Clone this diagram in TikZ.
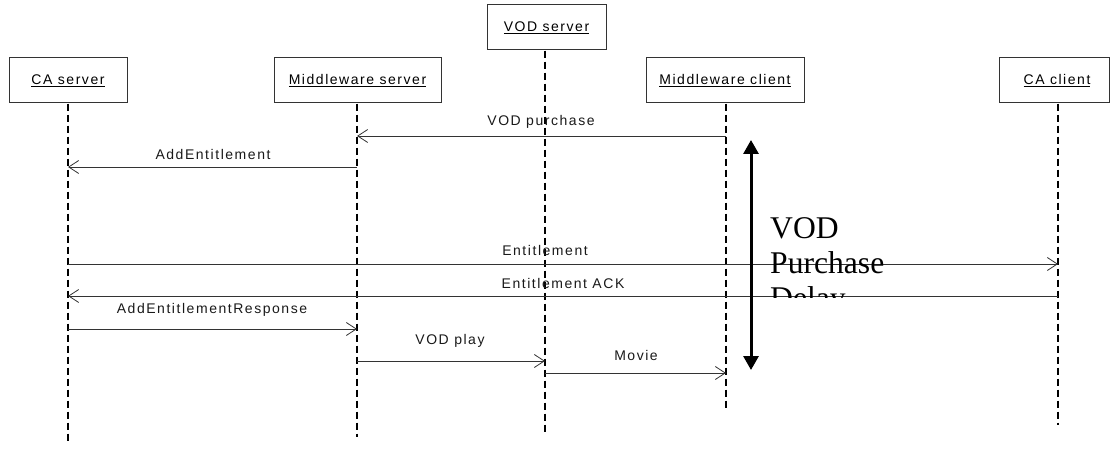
\documentclass[tikz,border=0pt]{standalone}
\usepackage{fontspec}
\usetikzlibrary{arrows.meta}
\newfontfamily\labfont{Liberation Sans}[LetterSpace=11]
\newfontfamily\bigserif{Liberation Serif}
\begin{document}
\begin{tikzpicture}[x=1pt,y=-1pt,
  objbox/.style={draw=black!80,line width=1pt,minimum height=45pt,inner sep=0pt,font=\labfont\fontsize{14}{16}\selectfont},
  lifeline/.style={line width=2pt,dash pattern=on 7pt off 4pt},
  msg/.style={draw=black!80,line width=0.8pt,-{Straight Barb[length=10pt,width=13pt,line width=0.8pt]}},
  lbl/.style={font=\labfont\fontsize{14}{16}\selectfont,inner sep=0pt,text=black!90},
  delay/.style={line width=3pt,{Triangle[length=14pt,width=15pt]}-{Triangle[length=14pt,width=15pt]}}]
\useasboundingbox (0,0) rectangle (1110,454);
% objects
\node[objbox,minimum width=118pt] (ca) at (68,80.5) {\underline{CA server}};
\node[objbox,minimum width=167pt] (ms) at (357.5,80.5) {\underline{Middleware server}};
\node[objbox,minimum width=119pt] (vod) at (546.5,27.5) {\underline{VOD server}};
\node[objbox,minimum width=158pt] (mc) at (725,80.5) {\underline{Middleware client}};
\node[objbox,minimum width=110pt] (cac) at (1054,80.5) {\hspace*{6pt}\underline{CA client}};
% lifelines
\coordinate (caT) at (68,103.6);   \coordinate (caB) at (68,442);
\coordinate (msT) at (357,103.6);  \coordinate (msB) at (357,437);
\coordinate (vodT) at (545,50.6);  \coordinate (vodB) at (545,432);
\coordinate (mcT) at (726,103.6);  \coordinate (mcB) at (726,408);
\coordinate (cacT) at (1058,103.6);\coordinate (cacB) at (1058,425);
\draw[lifeline] (caT) -- (caB);
\draw[lifeline] (msT) -- (msB);
\draw[lifeline] (vodT) -- (vodB);
\draw[lifeline] (mcT) -- (mcB);
\draw[lifeline] (cacT) -- (cacB);
% message end points
\coordinate (m1a) at (726,136);  \coordinate (m1b) at (357,136);
\coordinate (m2a) at (357,167);  \coordinate (m2b) at (68,167);
\coordinate (m3a) at (68,264);   \coordinate (m3b) at (1058,264);
\coordinate (m4a) at (1058,296); \coordinate (m4b) at (68,296);
\coordinate (m5a) at (68,329);   \coordinate (m5b) at (357,329);
\coordinate (m6a) at (357,361);  \coordinate (m6b) at (545,361);
\coordinate (m7a) at (545,373);  \coordinate (m7b) at (726,373);
% messages
\draw[msg] (m1a) -- (m1b);
\draw[msg] (m2a) -- (m2b);
\draw[msg] (m3a) -- (m3b);
\draw[msg] (m4a) -- (m4b);
\draw[msg] (m5a) -- (m5b);
\draw[msg] (m6a) -- (m6b);
\draw[msg] (m7a) -- (m7b);
% labels
\node[lbl] (l1) at (541,122) {VOD purchase};
\node[lbl] (l2) at (213,154) {AddEntitlement};
\node[lbl] (l3) at (545,250) {Entitlement};
\node[lbl] (l4) at (563,283) {Entitlement ACK};
\node[lbl] (l5) at (212,309.5) {AddEntitlementResponse};
\node[lbl] (l6) at (450,341) {VOD play};
\node[lbl] (l7) at (636,355) {Movie};
% delay arrow
\coordinate (dT) at (751,140);
\coordinate (dB) at (751,370);
\draw[delay] (dT) -- (dB);
\begin{scope}
\clip (760,190) rectangle (920,297);
\node[anchor=base west,inner sep=0pt,align=left,font=\bigserif\fontsize{31.6}{35}\selectfont] (dl) at (770,308) {VOD\\Purchase\\Delay};
\end{scope}
\end{tikzpicture}
\end{document}
